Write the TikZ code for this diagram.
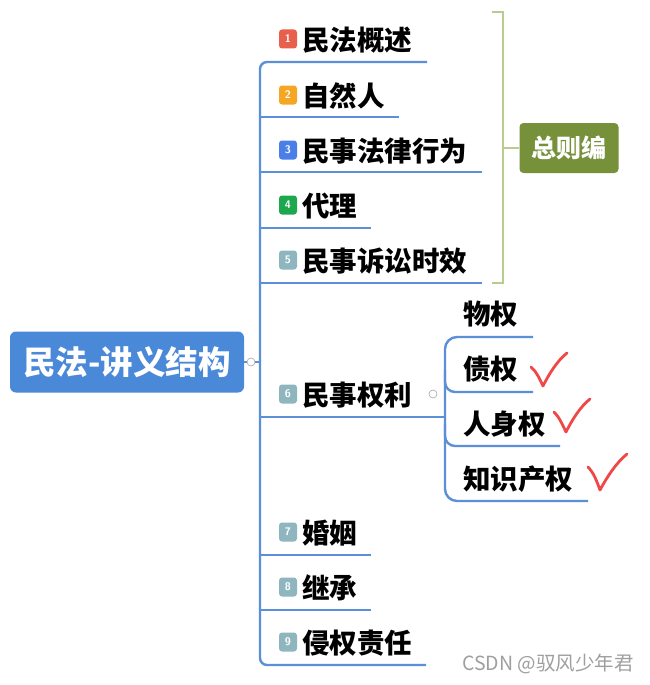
\documentclass[tikz,border=0pt]{standalone}
\usepackage{fontspec}
\setmainfont{Noto Sans CJK SC}
\newfontfamily\cjk{Noto Sans CJK SC}
\definecolor{trunk}{HTML}{5B8FD8}
\definecolor{rootblue}{HTML}{4A88D8}
\definecolor{olive}{HTML}{77913B}
\definecolor{brack}{HTML}{B8CC8E}
\definecolor{ired}{HTML}{E8604C}
\definecolor{iorange}{HTML}{F5A623}
\definecolor{iblue}{HTML}{4A7FE8}
\definecolor{igreen}{HTML}{1DA84F}
\definecolor{igray}{HTML}{8FB6BF}
\definecolor{checkred}{HTML}{F04848}
\tikzset{
  itemtext/.style={anchor=west,inner sep=0pt,font=\cjk\bfseries\fontsize{27.5}{27.5}\selectfont,text=black},
  icon/.style={fill=#1,rounded corners=3pt,minimum width=18pt,minimum height=19pt,inner sep=0pt,text=white,font=\sffamily\bfseries\fontsize{11}{11}\selectfont},
  branch/.style={draw=trunk,line width=2.4pt},
  checkmark/.style={draw=checkred,line width=2.8pt,line cap=round,line join=round},
  collapse/.style={circle,draw=gray!70,line width=0.6pt,minimum size=8pt,inner sep=0pt,fill=white}
}
\begin{document}
\begin{tikzpicture}[x=1pt,y=-1pt]
\useasboundingbox (0,0) rectangle (649,685);
\fill[white] (0,0) rectangle (649,685);

% root
\node[fill=rootblue,rounded corners=6pt,minimum width=234pt,minimum height=61pt,inner sep=0pt,
      text=white,font=\cjk\bfseries\fontsize{32.5}{32.5}\selectfont] (root) at (127,362) {民法-讲义结构};
\node[collapse] (rc) at (251,362) {};

% items
\node[icon=ired] (i1) at (288,39) {1};
\node[itemtext] (t1) at (302,40) {民法概述};
\node[icon=iorange] (i2) at (288,95) {2};
\node[itemtext] (t2) at (302,96) {自然人};
\node[icon=iblue] (i3) at (288,150) {3};
\node[itemtext] (t3) at (302,151) {民事法律行为};
\node[icon=igreen] (i4) at (288,205) {4};
\node[itemtext] (t4) at (302,206) {代理};
\node[icon=igray] (i5) at (288,260) {5};
\node[itemtext] (t5) at (302,261) {民事诉讼时效};
\node[icon=igray] (i6) at (288,394) {6};
\node[itemtext] (t6) at (302,395) {民事权利};
\node[icon=igray] (i7) at (288,532) {7};
\node[itemtext] (t7) at (302,533) {婚姻};
\node[icon=igray] (i8) at (288,587) {8};
\node[itemtext] (t8) at (302,588) {继承};
\node[icon=igray] (i9) at (288,642) {9};
\node[itemtext] (t9) at (302,643) {侵权责任};

% underline ends
\coordinate (e1) at (427,62);
\coordinate (e2) at (399,117);
\coordinate (e3) at (482,172);
\coordinate (e4) at (371,228);
\coordinate (e5) at (482,283);
\coordinate (e6) at (445,417);
\coordinate (e7) at (371,555);
\coordinate (e8) at (371,610);
\coordinate (e9) at (426,665);

% trunk
\draw[branch] (root.east) -- (rc.west);
\draw[branch] (rc.east) -- (260,362);
\draw[branch,rounded corners=7pt] (e1) -- (260,62) -- (260,665) -- (e9);
\foreach \k in {2,3,4,5,6,7,8}{
  \draw[branch] (260,0 |- e\k) -- (e\k);
}

% sub items
\node[collapse] (sc) at (433,394) {};
\node[itemtext] (s1) at (463,314) {物权};
\node[itemtext] (s2) at (463,369) {债权};
\node[itemtext] (s3) at (463,424) {人身权};
\node[itemtext] (s4) at (463,479) {知识产权};
\coordinate (f1) at (533,337);
\coordinate (f2) at (533,392);
\coordinate (f3) at (560,446);
\coordinate (f4) at (588,501);
\draw[branch,rounded corners=12pt] (f1) -- (445,337) -- (445,501) -- (f4);
\draw[branch,rounded corners=10pt] (445,370) -- (445,392) -- (f2);
\draw[branch,rounded corners=10pt] (445,424) -- (445,446) -- (f3);

% check marks
\draw[checkmark] (531,367) .. controls (537,372) and (540,380) .. (543,386) .. controls (549,374) and (557,361) .. (567,353);
\draw[checkmark] (554,412) .. controls (560,418) and (563,426) .. (566,432) .. controls (572,420) and (580,407) .. (590,399);
\draw[checkmark] (588,467) .. controls (594,473) and (597,482) .. (600,490) .. controls (607,477) and (616,463) .. (627,454);

% bracket
\draw[draw=brack,line width=2.6pt] (492,12) -- (503,12) -- (503,283) -- (492,283);
\draw[draw=brack,line width=2.6pt] (503,148) -- (519,148);
\node[fill=olive,rounded corners=4pt,minimum width=99pt,minimum height=50pt,inner sep=0pt,
      text=white,font=\cjk\bfseries\fontsize{25}{25}\selectfont] (zb) at (569,148) {总则编};

% watermark
\node[anchor=west,inner sep=0pt,text=gray!75,font=\cjk\fontsize{19.5}{19.5}\selectfont] (wm) at (462,664) {CSDN @驭风少年君};
\end{tikzpicture}
\end{document}
